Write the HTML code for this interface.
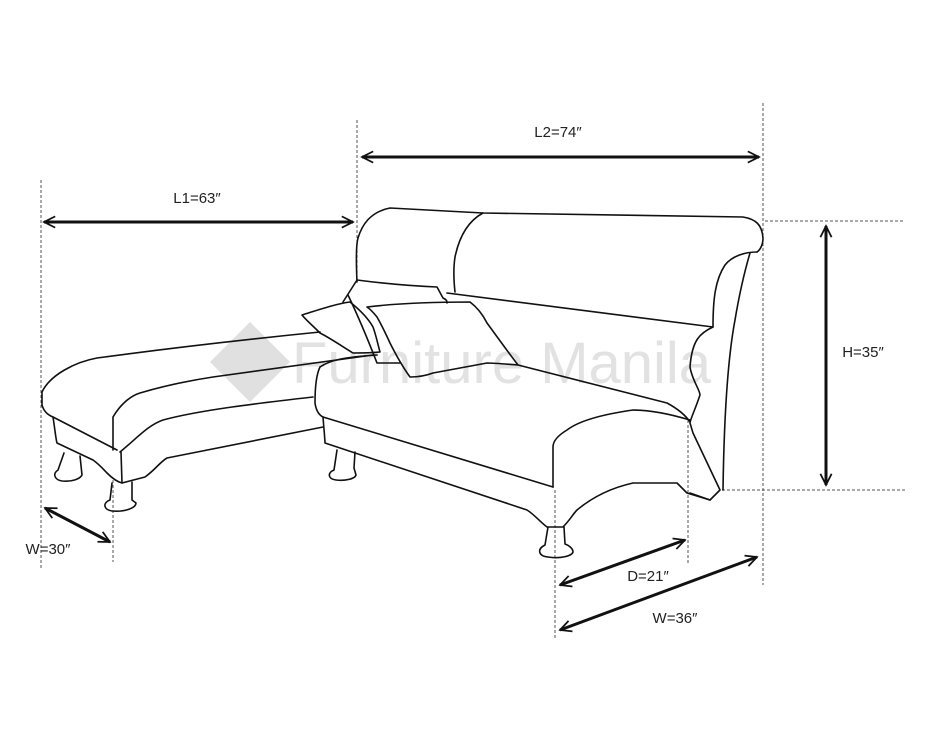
<!DOCTYPE html>
<html><head><meta charset="utf-8"><style>
html,body{margin:0;padding:0;background:#fff;}
svg{display:block;}
text{font-family:"Liberation Sans",sans-serif;}
</style></head><body>
<svg width="940" height="730" viewBox="0 0 940 730" xmlns="http://www.w3.org/2000/svg">
<defs>
<marker id="a" viewBox="0 0 20 20" refX="18" refY="10" markerWidth="14" markerHeight="14" markerUnits="userSpaceOnUse" orient="auto-start-reverse">
<path d="M2,2 L18,10 L2,18" fill="none" stroke="#111" stroke-width="2.5"/>
</marker>
</defs>
<!-- watermark -->
<g fill="#e0e0e0">
<path d="M250,322 L290,362 L250,402 L210,362 Z"/>
</g>
<text x="292" y="383" font-size="58" fill="#e2e2e2">Furniture Manila</text>

<!-- dashed guide lines -->
<g stroke="#555" stroke-width="1" stroke-dasharray="3,2" fill="none">
<line x1="41" y1="180" x2="41" y2="570"/>
<line x1="357" y1="120" x2="357" y2="280"/>
<line x1="763" y1="103" x2="763" y2="585"/>
<line x1="113" y1="480" x2="113" y2="562"/>
<line x1="555" y1="490" x2="555" y2="640"/>
<line x1="688" y1="420" x2="688" y2="565"/>
<line x1="765" y1="221" x2="905" y2="221"/>
<line x1="722" y1="490" x2="905" y2="490"/>
</g>

<!-- sofa -->
<g fill="none" stroke="#111" stroke-width="1.6" stroke-linejoin="round" stroke-linecap="round">
<!-- chaise -->
<path d="M320,332 C280,336 200,344 97,358 C75,362 50,375 42,392 L42,405 C44,412 48,415 53,417 L117,450"/>
<path d="M113,450 L113,417 C120,405 130,396 140,393 C170,384 200,379 213,377 L373,355"/>
<path d="M120,452 C135,440 148,425 163,420 C200,410 260,403 313,397"/>
<path d="M53,417 C55,430 56,440 57,443 L93,460 C100,465 104,470 107,473 C112,478 118,482 122,483 L145,477 C155,470 160,462 167,458 L323,427"/>
<line x1="121" y1="452" x2="122" y2="483"/>
<path d="M64,453 L58,470 C52,474 55,480 62,481 C72,482 80,479 82,475 L80,456"/>
<path d="M112,483 L110,500 C102,503 104,510 112,511 C125,512 136,508 136,503 L132,500 L132,482"/>
<!-- right sofa back -->
<path d="M357,282 C356,260 356,245 358,238 C362,225 370,212 390,208 L483,213 L743,217 C755,219 762,224 763,238 C763,245 760,250 757,252"/>
<path d="M483,213 C470,220 460,233 455,257 C453,270 454,283 455,292"/>
<path d="M757,252 C745,252 732,256 725,265 C715,280 713,300 713,327"/>
<path d="M750,253 C745,270 740,290 735,320 C728,357 724,420 723,490"/>
<path d="M447,293 L713,327 C700,333 692,340 690,367 C692,380 700,390 700,395 C695,410 690,420 690,423 L693,433 L720,490 L710,500 L690,493"/>
<!-- seat -->
<path d="M320,367 C330,360 345,357 377,355"/>
<path d="M320,367 C316,375 315,390 315,403 C316,410 319,415 323,417 L553,487"/>
<path d="M518,365 L667,403 C680,410 686,416 690,422"/>
<path d="M690,420 C670,414 650,410 633,410 C605,414 580,420 567,430 C557,436 553,442 553,447 L553,487"/>
<path d="M323,417 C324,430 325,440 325,443 L527,510 C535,515 540,522 547,527 L563,527 C570,520 573,514 577,510 C595,495 615,487 633,483 L677,483 L687,493 L710,500"/>
<!-- legs -->
<path d="M337,450 L334,470 C327,473 328,479 336,480 C345,481 355,479 356,475 L354,468 L355,452"/>
<path d="M548,527 L545,545 C537,549 538,556 548,557 C560,559 572,556 573,552 C573,548 568,545 565,544 L564,527"/>
<!-- pillows -->
<path d="M343,302 L357,280 C380,283 410,286 437,287 L443,298 C447,300 447,301 447,303"/>
<path d="M348,295 C360,320 370,345 377,363 L400,363"/>
<path d="M302,315 C318,310 335,304 350,302 C360,310 368,318 373,327 C376,335 378,345 380,352 C370,353 360,353 353,353 C340,345 330,338 320,333 C312,325 306,320 302,315 Z"/>
<path d="M367,307 C400,303 440,302 470,302 C478,308 483,315 487,323 C498,338 508,352 518,365 C505,364 495,363 487,363 C470,366 450,370 433,373 C425,376 418,377 410,377 C402,366 396,355 390,343 C385,332 381,324 377,317 C373,312 370,309 367,307 Z"/>
</g>

<!-- dimension arrows -->
<g stroke="#111" stroke-width="3" fill="none" marker-start="url(#a)" marker-end="url(#a)">
<line x1="362" y1="157" x2="759" y2="157"/>
<line x1="44" y1="222" x2="353" y2="222"/>
<line x1="826" y1="226" x2="826" y2="485"/>
<line x1="45" y1="508" x2="110" y2="542"/>
<line x1="560" y1="585" x2="685" y2="540"/>
<line x1="560" y1="630" x2="757" y2="557"/>
</g>
<g font-size="15" fill="#222" text-anchor="middle">
<text x="558" y="137">L2=74″</text>
<text x="197" y="203">L1=63″</text>
<text x="863" y="357">H=35″</text>
<text x="48" y="554">W=30″</text>
<text x="648" y="581">D=21″</text>
<text x="675" y="623">W=36″</text>
</g>
</svg>
</body></html>
